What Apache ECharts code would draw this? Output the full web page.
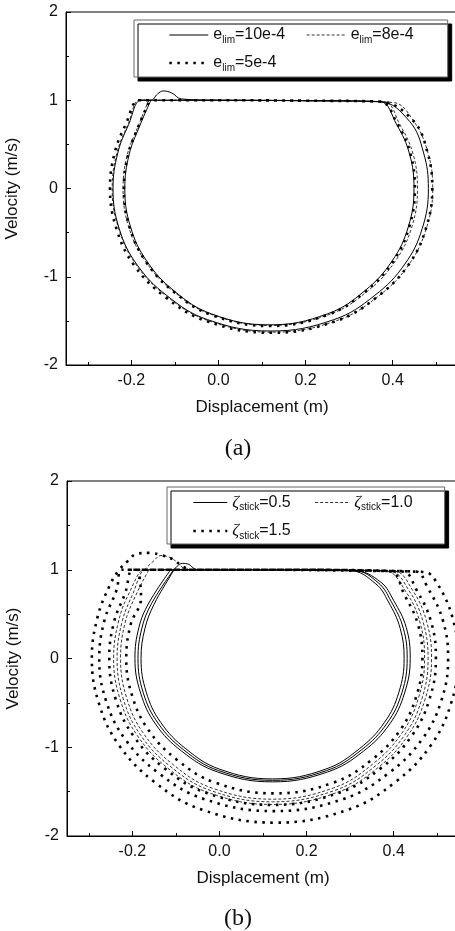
<!DOCTYPE html>
<html><head><meta charset="utf-8">
<script src="https://cdn.jsdelivr.net/npm/echarts@6/dist/echarts.min.js"></script>
<style>html,body{margin:0;padding:0;background:#fff}#c{width:455px;height:931px}</style>
</head><body><div id="c"></div>
<script>
// ---- tick values & labels ----
const xTicks = [-0.2, 0.0, 0.2, 0.4];
const xMinorTicks = [-0.3, -0.1, 0.1, 0.3, 0.5];
const yTicks = [-2, -1, 0, 1, 2];
const namesA = ['e_lim=10e-4', 'e_lim=8e-4', 'e_lim=5e-4'];
const namesB = ['ζ_stick=0.5', 'ζ_stick=1.0', 'ζ_stick=1.5'];
const panelLabels = ['(a)', '(b)'];
const xName = 'Displacement (m)';
const yName = 'Velocity (m/s)';

// ---- panel (a) : e_lim=10e-4 (solid) ----
const a1Outer = [[-0.178,1.0],[0.0,1.0],[0.2,0.995],[0.37,0.985],[0.439,0.759],[0.471,0.404],[0.482,0],[0.468,-0.452],[0.428,-0.856],[0.359,-1.211],[0.265,-1.486],[0.12,-1.615],[-0.025,-1.486],[-0.119,-1.211],[-0.188,-0.856],[-0.228,-0.452],[-0.242,0],[-0.231,0.404],[-0.206,0.727],[-0.178,1.0]];
const a1Inner = [[-0.155,1.0],[-0.14,1.07],[-0.127,1.105],[-0.108,1.085],[-0.085,1.015],[0.0,1.0],[0.2,0.995],[0.37,0.985],[0.409,0.726],[0.439,0.386],[0.449,0],[0.436,-0.433],[0.399,-0.819],[0.336,-1.159],[0.25,-1.421],[0.117,-1.545],[-0.016,-1.421],[-0.102,-1.159],[-0.165,-0.819],[-0.202,-0.433],[-0.215,0],[-0.205,0.386],[-0.182,0.695],[-0.155,1.0]];
// ---- panel (a) : e_lim=8e-4 (dashed) ----
const a2Outer = [[-0.182,1.0],[0.0,1.0],[0.2,0.995],[0.40,0.975],[0.448,0.765],[0.481,0.407],[0.492,0],[0.477,-0.456],[0.437,-0.863],[0.367,-1.221],[0.271,-1.498],[0.124,-1.628],[-0.023,-1.498],[-0.119,-1.221],[-0.189,-0.863],[-0.229,-0.456],[-0.244,0],[-0.233,0.407],[-0.207,0.733],[-0.182,1.0]];
const a2Inner = [[-0.16,1.0],[0.0,1.0],[0.2,0.995],[0.38,0.98],[0.416,0.729],[0.447,0.388],[0.457,0],[0.444,-0.435],[0.406,-0.823],[0.342,-1.164],[0.254,-1.428],[0.119,-1.552],[-0.016,-1.428],[-0.104,-1.164],[-0.168,-0.823],[-0.206,-0.435],[-0.219,0],[-0.209,0.388],[-0.185,0.698],[-0.16,1.0]];
// ---- panel (a) : e_lim=5e-4 (dotted) ----
const a3Outer = [[-0.183,1.0],[0.0,1.0],[0.2,0.995],[0.37,0.985],[0.447,0.768],[0.48,0.409],[0.491,0],[0.476,-0.458],[0.436,-0.867],[0.365,-1.226],[0.269,-1.504],[0.121,-1.635],[-0.027,-1.504],[-0.123,-1.226],[-0.194,-0.867],[-0.234,-0.458],[-0.249,0],[-0.238,0.409],[-0.212,0.736],[-0.183,1.0]];
const a3Inner = [[-0.158,1.0],[0.0,1.0],[0.2,0.995],[0.37,0.985],[0.411,0.732],[0.441,0.39],[0.451,0],[0.438,-0.436],[0.401,-0.826],[0.337,-1.169],[0.25,-1.433],[0.117,-1.558],[-0.016,-1.433],[-0.103,-1.169],[-0.167,-0.826],[-0.204,-0.436],[-0.217,0],[-0.207,0.39],[-0.184,0.701],[-0.158,1.0]];

// ---- panel (b) : zeta=0.5 (solid) ----
const b1Loop1 = [[-0.108,0.97],[-0.097,1.04],[-0.085,1.072],[-0.07,1.06],[-0.06,1.02],[-0.05,1.0],[0.1,1.0],[0.3,0.99],[0.359,0.841],[0.388,0.638],[0.415,0.339],[0.424,0],[0.412,-0.38],[0.379,-0.719],[0.321,-1.018],[0.243,-1.248],[0.122,-1.357],[0.001,-1.248],[-0.077,-1.018],[-0.135,-0.719],[-0.168,-0.38],[-0.18,0],[-0.171,0.339],[-0.15,0.611],[-0.108,0.97]];
const b1Loop2 = [[-0.105,1.0],[0.1,1.0],[0.31,0.99],[0.365,0.851],[0.394,0.645],[0.422,0.343],[0.431,0],[0.419,-0.384],[0.385,-0.728],[0.326,-1.03],[0.246,-1.263],[0.122,-1.373],[-0.002,-1.263],[-0.082,-1.03],[-0.141,-0.728],[-0.175,-0.384],[-0.187,0],[-0.178,0.343],[-0.156,0.618],[-0.105,1.0]];
const b1Loop3 = [[-0.112,1.0],[0.1,1.0],[0.31,0.99],[0.37,0.862],[0.4,0.653],[0.429,0.348],[0.438,0],[0.425,-0.389],[0.391,-0.737],[0.331,-1.043],[0.248,-1.279],[0.122,-1.39],[-0.004,-1.279],[-0.087,-1.043],[-0.147,-0.737],[-0.181,-0.389],[-0.194,0],[-0.185,0.348],[-0.162,0.626],[-0.112,1.0]];
// ---- panel (b) : zeta=1.0 (dashed) ----
const b2Loop1 = [[-0.172,1.0],[-0.153,1.09],[-0.134,1.16],[-0.11,1.13],[-0.09,1.05],[-0.075,1.0],[0.1,1.0],[0.40,0.985],[0.443,0.773],[0.476,0.411],[0.487,0],[0.472,-0.461],[0.432,-0.872],[0.363,-1.234],[0.268,-1.513],[0.122,-1.645],[-0.024,-1.513],[-0.119,-1.234],[-0.188,-0.872],[-0.228,-0.461],[-0.243,0],[-0.232,0.411],[-0.207,0.74],[-0.172,1.0]];
const b2Loop2 = [[-0.17,1.0],[0.1,1.0],[0.39,0.985],[0.436,0.759],[0.468,0.404],[0.479,0],[0.465,-0.452],[0.426,-0.856],[0.358,-1.211],[0.265,-1.486],[0.122,-1.615],[-0.021,-1.486],[-0.114,-1.211],[-0.182,-0.856],[-0.221,-0.452],[-0.235,0],[-0.224,0.404],[-0.199,0.727],[-0.17,1.0]];
const b2Loop3 = [[-0.162,1.0],[0.1,1.0],[0.38,0.985],[0.429,0.745],[0.461,0.396],[0.471,0],[0.457,-0.444],[0.419,-0.84],[0.352,-1.189],[0.262,-1.458],[0.122,-1.585],[-0.018,-1.458],[-0.108,-1.189],[-0.175,-0.84],[-0.213,-0.444],[-0.227,0],[-0.217,0.396],[-0.192,0.713],[-0.162,1.0]];
// ---- panel (b) : zeta=1.5 (dotted) ----
const b3Loop1 = [[-0.07,1.0],[0.1,1.0],[0.3,0.99],[0.47,0.975],[0.497,0.87],[0.535,0.463],[0.548,0],[0.531,-0.518],[0.485,-0.981],[0.405,-1.388],[0.296,-1.702],[0.128,-1.85],[-0.041,-1.702],[-0.15,-1.388],[-0.23,-0.981],[-0.276,-0.518],[-0.293,0],[-0.28,0.463],[-0.251,0.833],[-0.23,1.0],[-0.21,1.1],[-0.19,1.18],[-0.16,1.19],[-0.13,1.16],[-0.108,1.12],[-0.085,1.04],[-0.07,1.0]];
const b3Loop2 = [[-0.225,1.0],[0.1,1.0],[0.45,0.98],[0.477,0.808],[0.513,0.43],[0.525,0],[0.509,-0.482],[0.465,-0.912],[0.389,-1.29],[0.285,-1.582],[0.125,-1.72],[-0.036,-1.582],[-0.14,-1.29],[-0.216,-0.912],[-0.26,-0.482],[-0.276,0],[-0.264,0.43],[-0.236,0.774],[-0.225,1.0]];
const b3Loop3 = [[-0.2,1.0],[0.1,1.0],[0.42,0.98],[0.452,0.776],[0.486,0.413],[0.497,0],[0.482,-0.462],[0.441,-0.875],[0.37,-1.238],[0.272,-1.518],[0.122,-1.65],[-0.028,-1.518],[-0.126,-1.238],[-0.197,-0.875],[-0.238,-0.462],[-0.253,0],[-0.242,0.413],[-0.216,0.743],[-0.2,1.0]];
const b3Loop4 = [[-0.185,1.0],[0.1,1.0],[0.39,0.985],[0.425,0.714],[0.456,0.38],[0.466,0],[0.452,-0.426],[0.415,-0.806],[0.35,-1.14],[0.262,-1.398],[0.126,-1.52],[-0.01,-1.398],[-0.098,-1.14],[-0.163,-0.806],[-0.2,-0.426],[-0.214,0],[-0.204,0.38],[-0.18,0.684],[-0.185,1.0]];

const seriesA = [a1Outer.concat(a1Inner), a2Outer.concat(a2Inner), a3Outer.concat(a3Inner)];
const seriesB = [b1Loop1.concat(b1Loop2, b1Loop3), b2Loop1.concat(b2Loop2, b2Loop3), b3Loop1.concat(b3Loop2, b3Loop3, b3Loop4)];

const SANS = 'Liberation Sans, Arial, sans-serif';
const lineStyles = [
  {color:'#000', width:1, type:'solid'},
  {color:'#000', width:0.8, type:[3,2]},
  {color:'#000', width:2.6, type:[2.5,5.5]}
];

function legendFormatter(name){
  const m = name.match(/^(.)_(\w+)(=.*)$/);
  const base = m[1] === 'ζ' ? '{z|ζ}' : '{m|' + m[1] + '}';
  return base + '{s|' + m[2] + '}{m|' + m[3] + '}{sp| }';
}
function richStyles(spacer){
  return {
    m:{fontSize:16, fontFamily:SANS, color:'#111', lineHeight:20},
    z:{fontSize:17, fontFamily:'Liberation Serif, serif', fontStyle:'italic', color:'#111', lineHeight:20},
    s:{fontSize:10, fontFamily:SANS, color:'#111', lineHeight:8, verticalAlign:'bottom'},
    sp:{width:spacer, fontSize:10, lineHeight:20}
  };
}
function legendItems(names){
  return names.map((n,i)=>({name:n, lineStyle:{width:lineStyles[i].width, type:lineStyles[i].type, color:'#000'}}));
}

function makeX(gi){
  return [{
    gridIndex:gi, type:'value', min:-0.35, max:0.55, position:'bottom',
    name:xName, nameLocation:'middle', nameGap:34,
    nameTextStyle:{fontSize:17, fontFamily:SANS, color:'#111'},
    axisLine:{show:true, onZero:false, lineStyle:{color:'#000', width:1}},
    axisTick:{show:true, inside:true, length:5, customValues:xTicks, lineStyle:{color:'#000'}},
    axisLabel:{show:true, customValues:xTicks, margin:8, fontSize:16, fontFamily:SANS, color:'#111', formatter:v=>v.toFixed(1)},
    splitLine:{show:false}
  },{
    gridIndex:gi, type:'value', min:-0.35, max:0.55, position:'bottom',
    axisLine:{show:false, onZero:false},
    axisTick:{show:true, inside:true, length:3, customValues:xMinorTicks, lineStyle:{color:'#000'}},
    axisLabel:{show:false},
    splitLine:{show:false}
  }];
}
function makeY(gi){
  return {
    gridIndex:gi, type:'value', min:yTicks[0], max:yTicks[yTicks.length-1], interval:1,
    name:yName, nameLocation:'middle', nameGap:45,
    nameTextStyle:{fontSize:17, fontFamily:SANS, color:'#111'},
    axisLine:{show:true, onZero:false, lineStyle:{color:'#000', width:1}},
    axisTick:{show:true, inside:true, length:5, lineStyle:{color:'#000'}},
    minorTick:{show:true, splitNumber:2, length:3, lineStyle:{color:'#000'}},
    axisLabel:{margin:8, fontSize:16, fontFamily:SANS, color:'#111'},
    splitLine:{show:false}
  };
}

const series = [];
namesA.forEach((n,i)=>series.push({name:n, type:'line', xAxisIndex:0, yAxisIndex:0, data:seriesA[i], showSymbol:false, symbol:'none', smooth:0.4, color:'#000', itemStyle:{color:'#000'}, lineStyle:lineStyles[i], silent:true}));
namesB.forEach((n,i)=>series.push({name:n, type:'line', xAxisIndex:2, yAxisIndex:1, data:seriesB[i], showSymbol:false, symbol:'none', smooth:0.4, color:'#000', itemStyle:{color:'#000'}, lineStyle:lineStyles[i], silent:true}));

const legendCommon = {
  orient:'horizontal', itemGap:10, itemHeight:20,
  backgroundColor:'#fff', borderColor:'#666', borderWidth:1,
  shadowColor:'#000', shadowOffsetX:4, shadowOffsetY:4, shadowBlur:0, selectedMode:false,
  itemStyle:{opacity:0}, formatter:legendFormatter
};

const option = {
  animation:false,
  backgroundColor:'#fff',
  title:[
    {text:panelLabels[0], left:233, top:432, textAlign:'center', textStyle:{fontFamily:'Liberation Serif, serif', fontSize:24, fontWeight:'normal', color:'#111'}},
    {text:panelLabels[1], left:233, top:902, textAlign:'center', textStyle:{fontFamily:'Liberation Serif, serif', fontSize:24, fontWeight:'normal', color:'#111'}}
  ],
  grid:[
    {left:66, top:12, width:392, height:353, show:true, borderColor:'#000', borderWidth:1, backgroundColor:'transparent', containLabel:false, outerBoundsMode:'none'},
    {left:67, top:481, width:392, height:355, show:true, borderColor:'#000', borderWidth:1, backgroundColor:'transparent', containLabel:false, outerBoundsMode:'none'}
  ],
  xAxis: makeX(0).concat(makeX(1)),
  yAxis:[makeY(0), makeY(1)],
  legend:[
    Object.assign({}, legendCommon, {data:legendItems(namesA), left:134, top:20, width:290, itemWidth:39,
     padding:[7,23,4,34], textStyle:{rich:richStyles(11)}}),
    Object.assign({}, legendCommon, {data:legendItems(namesB), left:167, top:487, width:280, itemWidth:34,
     padding:[7,18,3,25], textStyle:{rich:richStyles(14)}})
  ],
  series:series
};
const chart = echarts.init(document.getElementById('c'), null, {renderer:'canvas'});
chart.setOption(option);
</script>
</body></html>
